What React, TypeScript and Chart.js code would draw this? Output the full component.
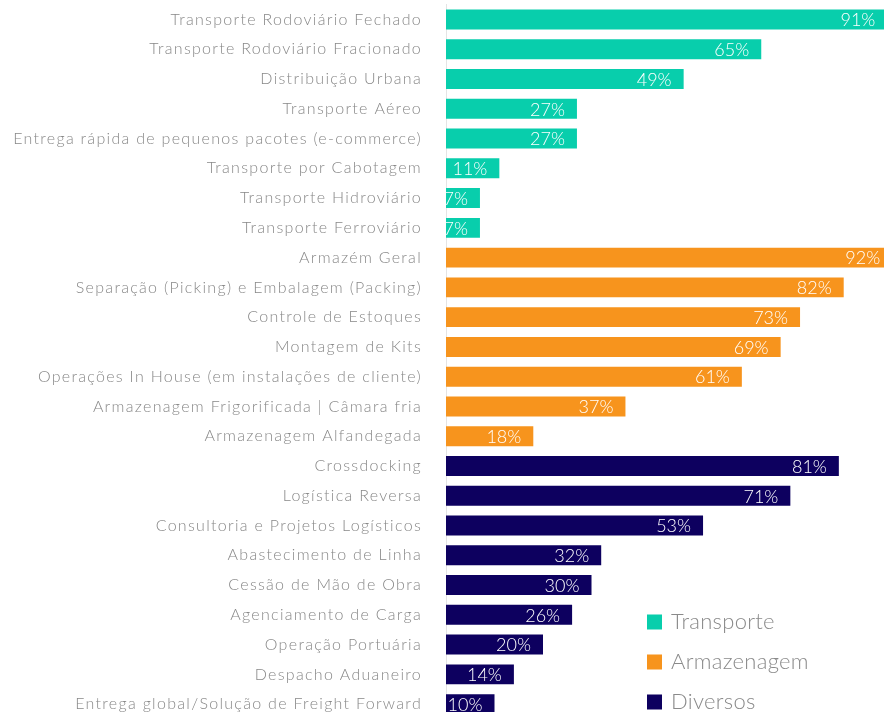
import React, { useEffect, useRef } from "react";
import { Chart, registerables } from "chart.js";

Chart.register(...registerables);

const categories = [
  "Transporte Rodoviário Fechado",
  "Transporte Rodoviário Fracionado",
  "Distribuição Urbana",
  "Transporte Aéreo",
  "Entrega rápida de pequenos pacotes (e-commerce)",
  "Transporte por Cabotagem",
  "Transporte Hidroviário",
  "Transporte Ferroviário",
  "Armazém Geral",
  "Separação (Picking) e Embalagem (Packing)",
  "Controle de Estoques",
  "Montagem de Kits",
  "Operações In House (em instalações de cliente)",
  "Armazenagem Frigorificada | Câmara fria",
  "Armazenagem Alfandegada",
  "Crossdocking",
  "Logística Reversa",
  "Consultoria e Projetos Logísticos",
  "Abastecimento de Linha",
  "Cessão de Mão de Obra",
  "Agenciamento de Carga",
  "Operação Portuária",
  "Despacho Aduaneiro",
  "Entrega global/Solução de Freight Forward",
];

const transporte = [91, 65, 49, 27, 27, 11, 7, 7];
const armazenagem = [92, 82, 73, 69, 61, 37, 18];
const diversos = [81, 71, 53, 32, 30, 26, 20, 14, 10];

const seriesNames = ["Transporte", "Armazenagem", "Diversos"];
const seriesColors = ["#08CEAC", "#F7941D", "#0D005F"];

const FONT = "Lato, 'Open Sans', sans-serif";

function placed(values: number[], offset: number): (number | null)[] {
  return categories.map((_, i) =>
    i >= offset && i < offset + values.length ? values[i - offset] : null
  );
}

const spacing = {
  id: "spacing",
  beforeDraw(chart: any) {
    chart.ctx.letterSpacing = "1.3px";
  },
  beforeDatasetsDraw(chart: any) {
    chart.ctx.letterSpacing = "0px";
  },
};

const valueLabels = {
  id: "valueLabels",
  afterDatasetsDraw(chart: any) {
    const ctx = chart.ctx;
    ctx.save();
    ctx.letterSpacing = "0px";
    ctx.font = `300 18px ${FONT}`;
    ctx.fillStyle = "#ffffff";
    ctx.textAlign = "right";
    ctx.textBaseline = "middle";
    chart.data.datasets.forEach((ds: any, di: number) => {
      const meta = chart.getDatasetMeta(di);
      meta.data.forEach((el: any, i: number) => {
        const v = ds.data[i];
        if (v === null || v === undefined) return;
        ctx.fillText(`${v}%`, el.x - 12, el.y + 1);
      });
    });
    ctx.restore();
  },
};

const customLegend = {
  id: "customLegend",
  afterDraw(chart: any) {
    const ctx = chart.ctx;
    const left = chart.chartArea.left + 201;
    const top = 622;
    ctx.save();
    ctx.letterSpacing = "0.3px";
    ctx.font = `300 22px ${FONT}`;
    ctx.textAlign = "left";
    ctx.textBaseline = "middle";
    chart.data.datasets.forEach((ds: any, i: number) => {
      const cy = top + i * 40;
      ctx.fillStyle = ds.backgroundColor;
      ctx.fillRect(left, cy - 7.5, 15, 15);
      ctx.fillStyle = "#8a8a8a";
      ctx.fillText(ds.label, left + 24, cy);
    });
    ctx.restore();
  },
};

export default function App() {
  const ref = useRef<HTMLCanvasElement>(null);
  useEffect(() => {
    if (!ref.current) return;
    const chart = new Chart(ref.current, {
      type: "bar",
      data: {
        labels: categories,
        datasets: [
          { label: seriesNames[0], data: placed(transporte, 0), backgroundColor: seriesColors[0] },
          { label: seriesNames[1], data: placed(armazenagem, 8), backgroundColor: seriesColors[1] },
          { label: seriesNames[2], data: placed(diversos, 15), backgroundColor: seriesColors[2] },
        ] as any,
      },
      options: {
        indexAxis: "y",
        responsive: false,
        animation: false,
        devicePixelRatio: 1,
        layout: { autoPadding: false, padding: { top: 4.6, bottom: 0, left: 0, right: 0 } },
        datasets: { bar: { barPercentage: 0.67, categoryPercentage: 1, skipNull: true } },
        plugins: { legend: { display: false }, tooltip: { enabled: false } },
        scales: {
          x: { display: false, min: 0, max: 100, stacked: true },
          y: {
            stacked: true,
            grid: { display: false },
            border: { display: true, color: "#e4e4e4", width: 1 },
            ticks: { color: "#888888", padding: 16, font: { family: FONT, size: 16, weight: "300" as any } },
            afterFit: (s: any) => {
              s.width = 446;
              s.paddingTop = 0;
              s.paddingBottom = 0;
            },
          },
        },
      } as any,
      plugins: [spacing, valueLabels, customLegend],
    });
    return () => chart.destroy();
  }, []);
  return (
    <div style={{ position: "absolute", left: 0, top: 0, width: 884, height: 712, overflow: "hidden", background: "#fff" }}>
      <canvas ref={ref} width={931} height={719} style={{ display: "block", width: 931, height: 719 }} />
    </div>
  );
}
